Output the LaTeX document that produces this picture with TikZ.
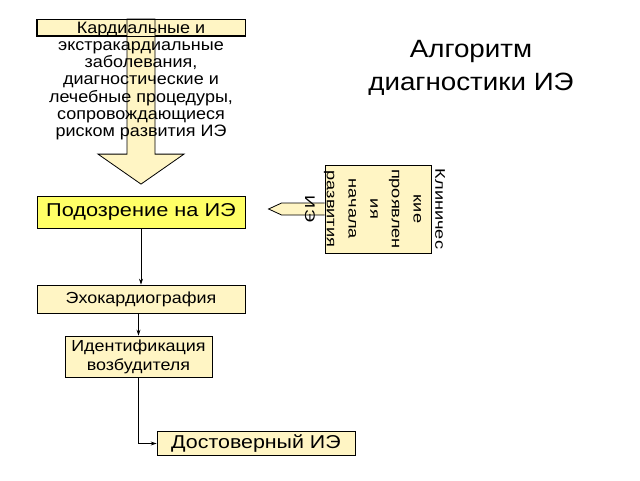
\documentclass[tikz,border=0pt]{standalone}
\usepackage{fontspec}
\setmainfont{Liberation Sans}
\usetikzlibrary{arrows.meta,calc}
\definecolor{cream}{HTML}{FFF5C4}
\definecolor{brightyellow}{HTML}{FFFF66}
\tikzset{
  box/.style={draw=black, line width=0.8pt, inner sep=0pt, fill=cream},
  lbl/.style={inner sep=0pt, align=center},
  conn/.style={draw=black, line width=0.7pt, -{Stealth[length=6pt,width=4pt]}},
  blockarrow/.style={draw=black, line width=0.8pt, fill=cream, line join=miter},
}
\begin{document}
\begin{tikzpicture}[x=1pt,y=-1pt]
\useasboundingbox (0,0) rectangle (640,480);
% top box
\node[box, minimum width=208pt, minimum height=16pt] (topbox) at (141,27.5) {};
% big down arrow
\path[blockarrow] ($(topbox.north)+(-14,0)$) -- ($(topbox.north)+(14,0)$) -- ++(0,135) -- ++(29,0) -- ($(topbox.north)+(0,165)$) coordinate (bigtip) -- ($(topbox.north)+(-43,135)$) -- ++(29,0) -- cycle;
\draw[line width=0.8pt] (topbox.north west) rectangle (topbox.south east);
\node[lbl, xscale=1.09, font=\fontsize{16.5pt}{17.3pt}\selectfont] (toptext) at (141,81)
  {Кардиальные и\\экстракардиальные\\заболевания,\\диагностические и\\лечебные процедуры,\\сопровождающиеся\\риском развития ИЭ};
% title
\node[lbl, xscale=1.11, font=\fontsize{25pt}{33pt}\selectfont] (title) at (471,68)
  {Алгоритм\\диагностики ИЭ};
% suspicion
\node[box, fill=brightyellow, minimum width=208pt, minimum height=32pt] (susp) at (141,212) {};
\node[lbl, xscale=1.17, font=\fontsize{18.6pt}{18.6pt}\selectfont] (susptext) at (susp.center) {Подозрение на ИЭ};
% clinical box and arrow
\node[box, minimum width=106pt, minimum height=88pt] (clin) at (378,209) {};
\path[blockarrow] ($(clin.west)+(0,-6)$) -- ++(-43,0) -- ($(clin.west)+(-56,0)$) coordinate (cliptip) -- ($(clin.west)+(-43,6)$) -- ($(clin.west)+(0,6)$);
\node[lbl, rotate=-90, xscale=1.3, font=\fontsize{14pt}{21.7pt}\selectfont] (clintext) at (375,209)
  {Клиничес\\кие\\проявлен\\ия\\начала\\развития\\ИЭ};
% echo
\node[box, minimum width=208pt, minimum height=28pt] (echo) at (141,299) {};
\node[lbl, xscale=1.12, font=\fontsize{16pt}{16pt}\selectfont] (echotext) at (echo.center) {Эхокардиография};
% identification
\node[box, minimum width=147pt, minimum height=41pt] (ident) at (138.5,356.5) {};
\node[lbl, xscale=1.12, font=\fontsize{16pt}{19pt}\selectfont] (identtext) at (ident.center) {Идентификация\\возбудителя};
% final
\node[box, minimum width=198pt, minimum height=24pt] (final) at (256,443.5) {};
\node[lbl, xscale=1.15, font=\fontsize{18.6pt}{18.6pt}\selectfont] (finaltext) at (final.center) {Достоверный ИЭ};
% connectors
\draw[conn] (susp.south) -- (echo.north);
\draw[conn] (ident.north |- echo.south) -- (ident.north);
\draw[conn] (ident.south) |- (final.west);
\end{tikzpicture}
\end{document}
